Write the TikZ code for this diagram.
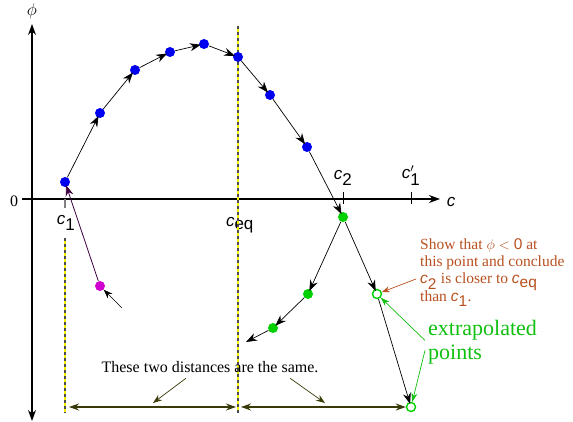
\documentclass[tikz,border=0pt]{standalone}
\usepackage{fontspec}
\setmainfont{Liberation Serif}
\setsansfont{Liberation Sans}
\usetikzlibrary{arrows.meta,calc}
\definecolor{ink}{HTML}{000000}
\definecolor{dotblue}{HTML}{0000F0}
\definecolor{dotgreen}{HTML}{00D000}
\definecolor{dotmagenta}{HTML}{D000D0}
\definecolor{notebrown}{HTML}{B8501F}
\definecolor{notegreen}{HTML}{10C010}
\definecolor{guide}{HTML}{F5F000}
\definecolor{dimline}{HTML}{3A3A08}
\definecolor{backline}{HTML}{400040}
\definecolor{tickgray}{HTML}{808080}
\newcommand{\cv}[1]{{\sffamily\itshape c}$_{\textsf{#1}}$}

\begin{document}
\begin{tikzpicture}[
  x=1pt, y=-1pt,
  font=\fontsize{16}{17}\selectfont,
  >={Stealth[length=11pt, width=8pt]},
  axis/.style={draw=ink, line width=1.1pt},
  dot/.style={circle, inner sep=0pt, minimum size=10pt},
  iterate/.style={dot, fill=dotblue},
  newdot/.style={dot, fill=dotgreen},
  extra/.style={dot, draw=dotgreen, line width=1.4pt, fill=white, minimum size=9pt},
  link/.style={->, draw=ink, line width=0.7pt, shorten >=-2pt},
  guideline/.style={draw=guide, line width=1.6pt},
  guidedash/.style={draw=ink!70, line width=1.6pt, dash pattern=on 3pt off 3pt},
  measure/.style={<->, draw=dimline, line width=1.2pt, >={Stealth[length=10pt, width=7pt]}},
  small/.style={->, draw=ink, line width=0.7pt, >={Stealth[length=9pt, width=6.5pt]}},
  ticklabel/.style={font=\fontsize{17}{17}\selectfont}
]
\useasboundingbox (0,0) rectangle (573,422);

% Axes
\coordinate (ytop) at (32,24);
\coordinate (ybot) at (32,421);
\coordinate (xleft) at (22,199);
\coordinate (xright) at (440,199);
\draw[axis, <->] (ybot) -- (ytop);
\draw[axis, ->] (xleft) -- (xright);
\node (phi) at (32,11) {$\phi$};
\node (zero) at (14,201) {0};
\node[ticklabel] (caxis) at (451,202) {{\sffamily\itshape c}};

% Ticks on the c axis
\coordinate (t1) at (65,199);
\coordinate (teq) at (238,199);
\coordinate (t2) at (343,199);
\coordinate (t1p) at (411,199);
\draw[tickgray, line width=1.4pt] (t1) -- ++(0,9);
\draw[tickgray, line width=1.4pt] (teq) -- ++(0,9);
\draw[ink, line width=0.8pt] ($(t2)+(0,-7)$) -- ($(t2)+(0,5)$);
\draw[ink, line width=0.8pt] ($(t1p)+(0,-7)$) -- ($(t1p)+(0,5)$);
\node[ticklabel] (c1) at (66,223) {\cv{1}};
\node[ticklabel] (ceq) at (240,225) {\cv{eq}};
\node[ticklabel] (c2) at (343,178) {\cv{2}};
\node[ticklabel] (c1p) at (411,176) {{\sffamily\itshape c}$'_{\textsf{1}}$};

% Vertical guides at c1 and ceq
\coordinate (g1top) at (65,238);
\coordinate (g1bot) at (65,413);
\coordinate (geqtop) at (238,26);
\coordinate (geqbot) at (238,413);
\foreach \gtop/\gbot in {g1top/g1bot, geqtop/geqbot} {
  \draw[guideline] (\gtop) -- (\gbot);
  \draw[guidedash] (\gtop) -- (\gbot);
}

% Iterates from c1
\node[iterate] (p1) at (65,182) {};
\node[iterate] (p2) at (100,113) {};
\node[iterate] (p3) at (135,70) {};
\node[iterate] (p4) at (170,52) {};
\node[iterate] (p5) at (204,44) {};
\node[iterate] (p6) at (238,57) {};
\node[iterate] (p7) at (270,95) {};
\node[iterate] (p8) at (307,147) {};
\node[newdot] (q1) at (343,217) {};
\foreach \from/\to in {p1/p2, p2/p3, p3/p4, p4/p5, p5/p6, p6/p7, p7/p8, p8/q1}
  \draw[link] (\from) -- (\to);

% Iterates from c2
\node[newdot] (q2) at (308,294) {};
\node[newdot] (q3) at (273,328) {};
\coordinate (q4) at (246,342);
\draw[link] (q1) -- (q2);
\draw[link] (q2) -- (q3);
\draw[link, shorten >=0pt] (q3) -- (q4);

% Extrapolated points
\node[extra] (e1) at (377,294) {};
\node[extra] (e2) at (411,407) {};
\draw[link] (q1) -- (e1);
\draw[link] (e1) -- (e2);

% Backward point
\node[dot, fill=dotmagenta] (m) at (100,286) {};
\draw[->, draw=backline, line width=0.8pt, shorten >=-2pt] (m) -- (p1);
\coordinate (mtail) at (122,308);
\draw[small] (mtail) -- (m);

% Equal distances
\coordinate (d1) at (69,407);
\coordinate (d2) at (236,407);
\coordinate (d3) at (241,407);
\draw[measure] (d1) -- (d2);
\draw[measure] (d3) -- (e2);
\node (same) at (210,367) {These two distances are the same.};
\draw[small, draw=dimline] ($(same.south)+(-24,2)$) -- (153,403);
\draw[small, draw=dimline] ($(same.south)+(80,2)$) -- (325,403);

% Notes
\node[text=notebrown, align=left, anchor=north west, inner sep=0pt, font=\fontsize{15.5}{17.4}\selectfont] (note) at (420,238)
  {Show that $\phi<\textsf{0}$ at\\this point and conclude\\\cv{2} is closer to \cv{eq}\\than \cv{1}.};
\draw[->, draw=notebrown, line width=0.7pt, >={Stealth[length=8pt, width=6pt]}] (416,279) -- (e1);
\node[text=notegreen, align=left, anchor=north west, inner sep=0pt, font=\fontsize{22}{24.5}\selectfont] (extrap) at (428,320)
  {extrapolated\\points};
\draw[->, draw=notegreen, line width=0.7pt, >={Stealth[length=9pt, width=6pt]}] ($(extrap.west)+(-3,-2)$) -- (e1);
\draw[->, draw=notegreen, line width=0.7pt, >={Stealth[length=9pt, width=6pt]}] ($(extrap.west)+(-3,8)$) -- (e2);

\end{tikzpicture}
\end{document}
